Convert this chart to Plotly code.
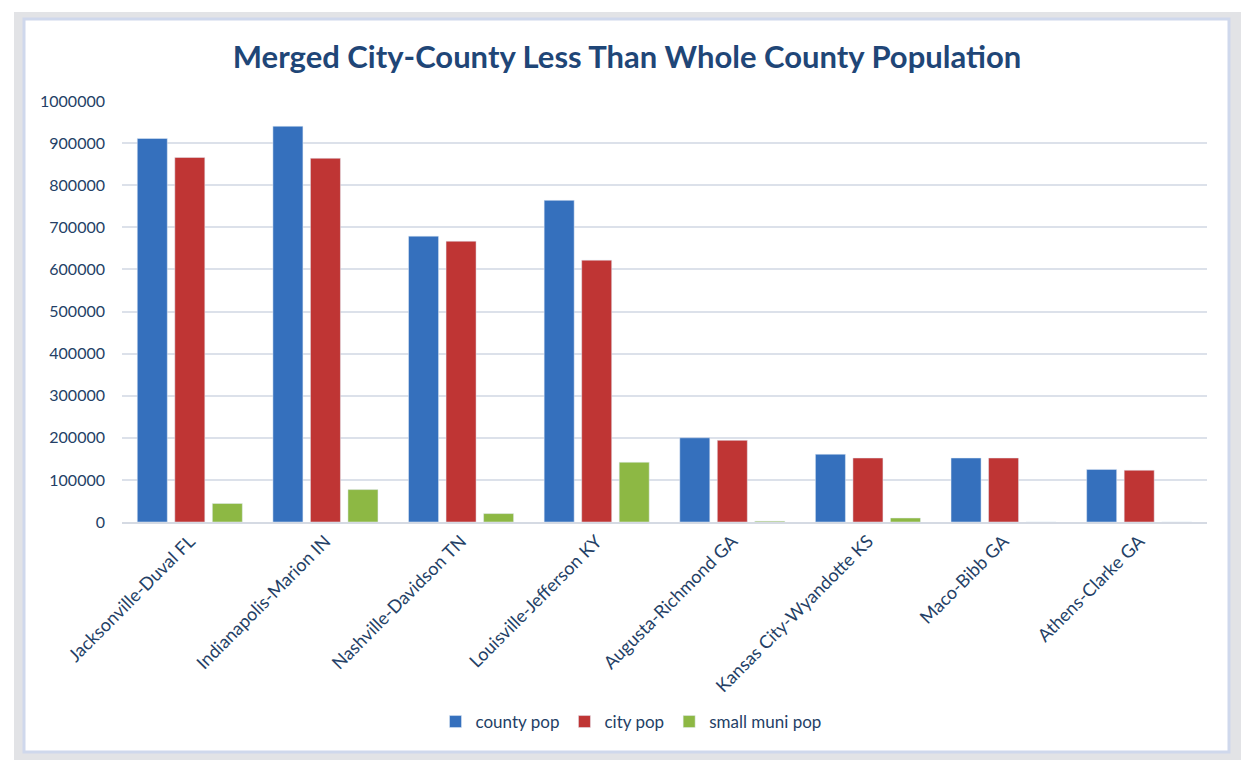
import plotly.graph_objects as go

categories = ["Jacksonville-Duval FL", "Indianapolis-Marion IN", "Nashville-Davidson TN",
              "Louisville-Jefferson KY", "Augusta-Richmond GA", "Kansas City-Wyandotte KS",
              "Maco-Bibb GA", "Athens-Clarke GA"]
county_pop = [911000, 940000, 679000, 764000, 200000, 161000, 152000, 125000]
city_pop = [866000, 864000, 667000, 622000, 194000, 152000, 152000, 123000]
small_muni_pop = [44000, 77000, 20000, 142000, 2000, 9500, 0, 0]
y_ticks = [0, 100000, 200000, 300000, 400000, 500000, 600000, 700000, 800000, 900000, 1000000]

# page is offset by the default 8px body margin
OFF = 8
W, H = 1254 - 2 * OFF, 772 - 2 * OFF
# plot area in page pixels: x 122..1207, y 101..522
PX0, PX1, PY0, PY1 = 122, 1207, 101, 522
L, R = PX0 - OFF, W - (PX1 - OFF)
T, B = PY0 - OFF, H - (PY1 - OFF)
pw, ph = PX1 - PX0, PY1 - PY0

def px(x):
    return (x - PX0) / pw

def py(y):
    return (PY1 - y) / ph

text_color = "#243F66"
font_family = "Lato, 'Open Sans', sans-serif"

fig = go.Figure()
fig.add_bar(x=categories, y=county_pop, name="county pop", marker_color="#3570BD")
fig.add_bar(x=categories, y=city_pop, name="city pop", marker_color="#BF3534")
fig.add_bar(x=categories, y=small_muni_pop, name="small muni pop", marker_color="#8DB844")

fig.update_layout(
    width=W, height=H,
    margin=dict(l=L, r=R, t=T, b=B),
    paper_bgcolor="white", plot_bgcolor="rgba(0,0,0,0)",
    barmode="group", bargap=0.17, bargroupgap=0.2,
    font=dict(family=font_family, color=text_color, size=15),
    title=dict(text="<b>Merged City-County Less Than Whole County Population</b>",
               x=px(627), xanchor="center", xref="paper", y=1 - (57 - OFF) / H, yanchor="middle",
               font=dict(size=31, color="#1F4677", family=font_family)),
    legend=dict(orientation="h", x=px(631), xanchor="center", y=py(722), yanchor="middle",
                font=dict(size=17, color=text_color), traceorder="normal"),
    shapes=[
        dict(type="rect", xref="paper", yref="paper", x0=px(14), x1=px(1241), y0=py(760), y1=py(12),
             fillcolor="#E2E3E6", line=dict(width=0), layer="below"),
        dict(type="rect", xref="paper", yref="paper", x0=px(24), x1=px(1229), y0=py(752), y1=py(19),
             fillcolor="white", line=dict(color="#CFD8EC", width=3), layer="below"),
    ],
)
fig.update_xaxes(tickangle=-45, tickfont=dict(size=18, color=text_color), showgrid=False,
                 showline=True, linecolor="#D5DAE3", linewidth=1.5, ticks="")
fig.update_yaxes(range=[0, 1000000], tickvals=y_ticks, ticktext=[str(v) for v in y_ticks],
                 showgrid=True, gridcolor="#DCE1EA", gridwidth=1.5, zeroline=False,
                 tickfont=dict(size=16, color=text_color), ticks="", ticklen=0,
                 ticklabelstandoff=16)

fig.write_html("out.html")
